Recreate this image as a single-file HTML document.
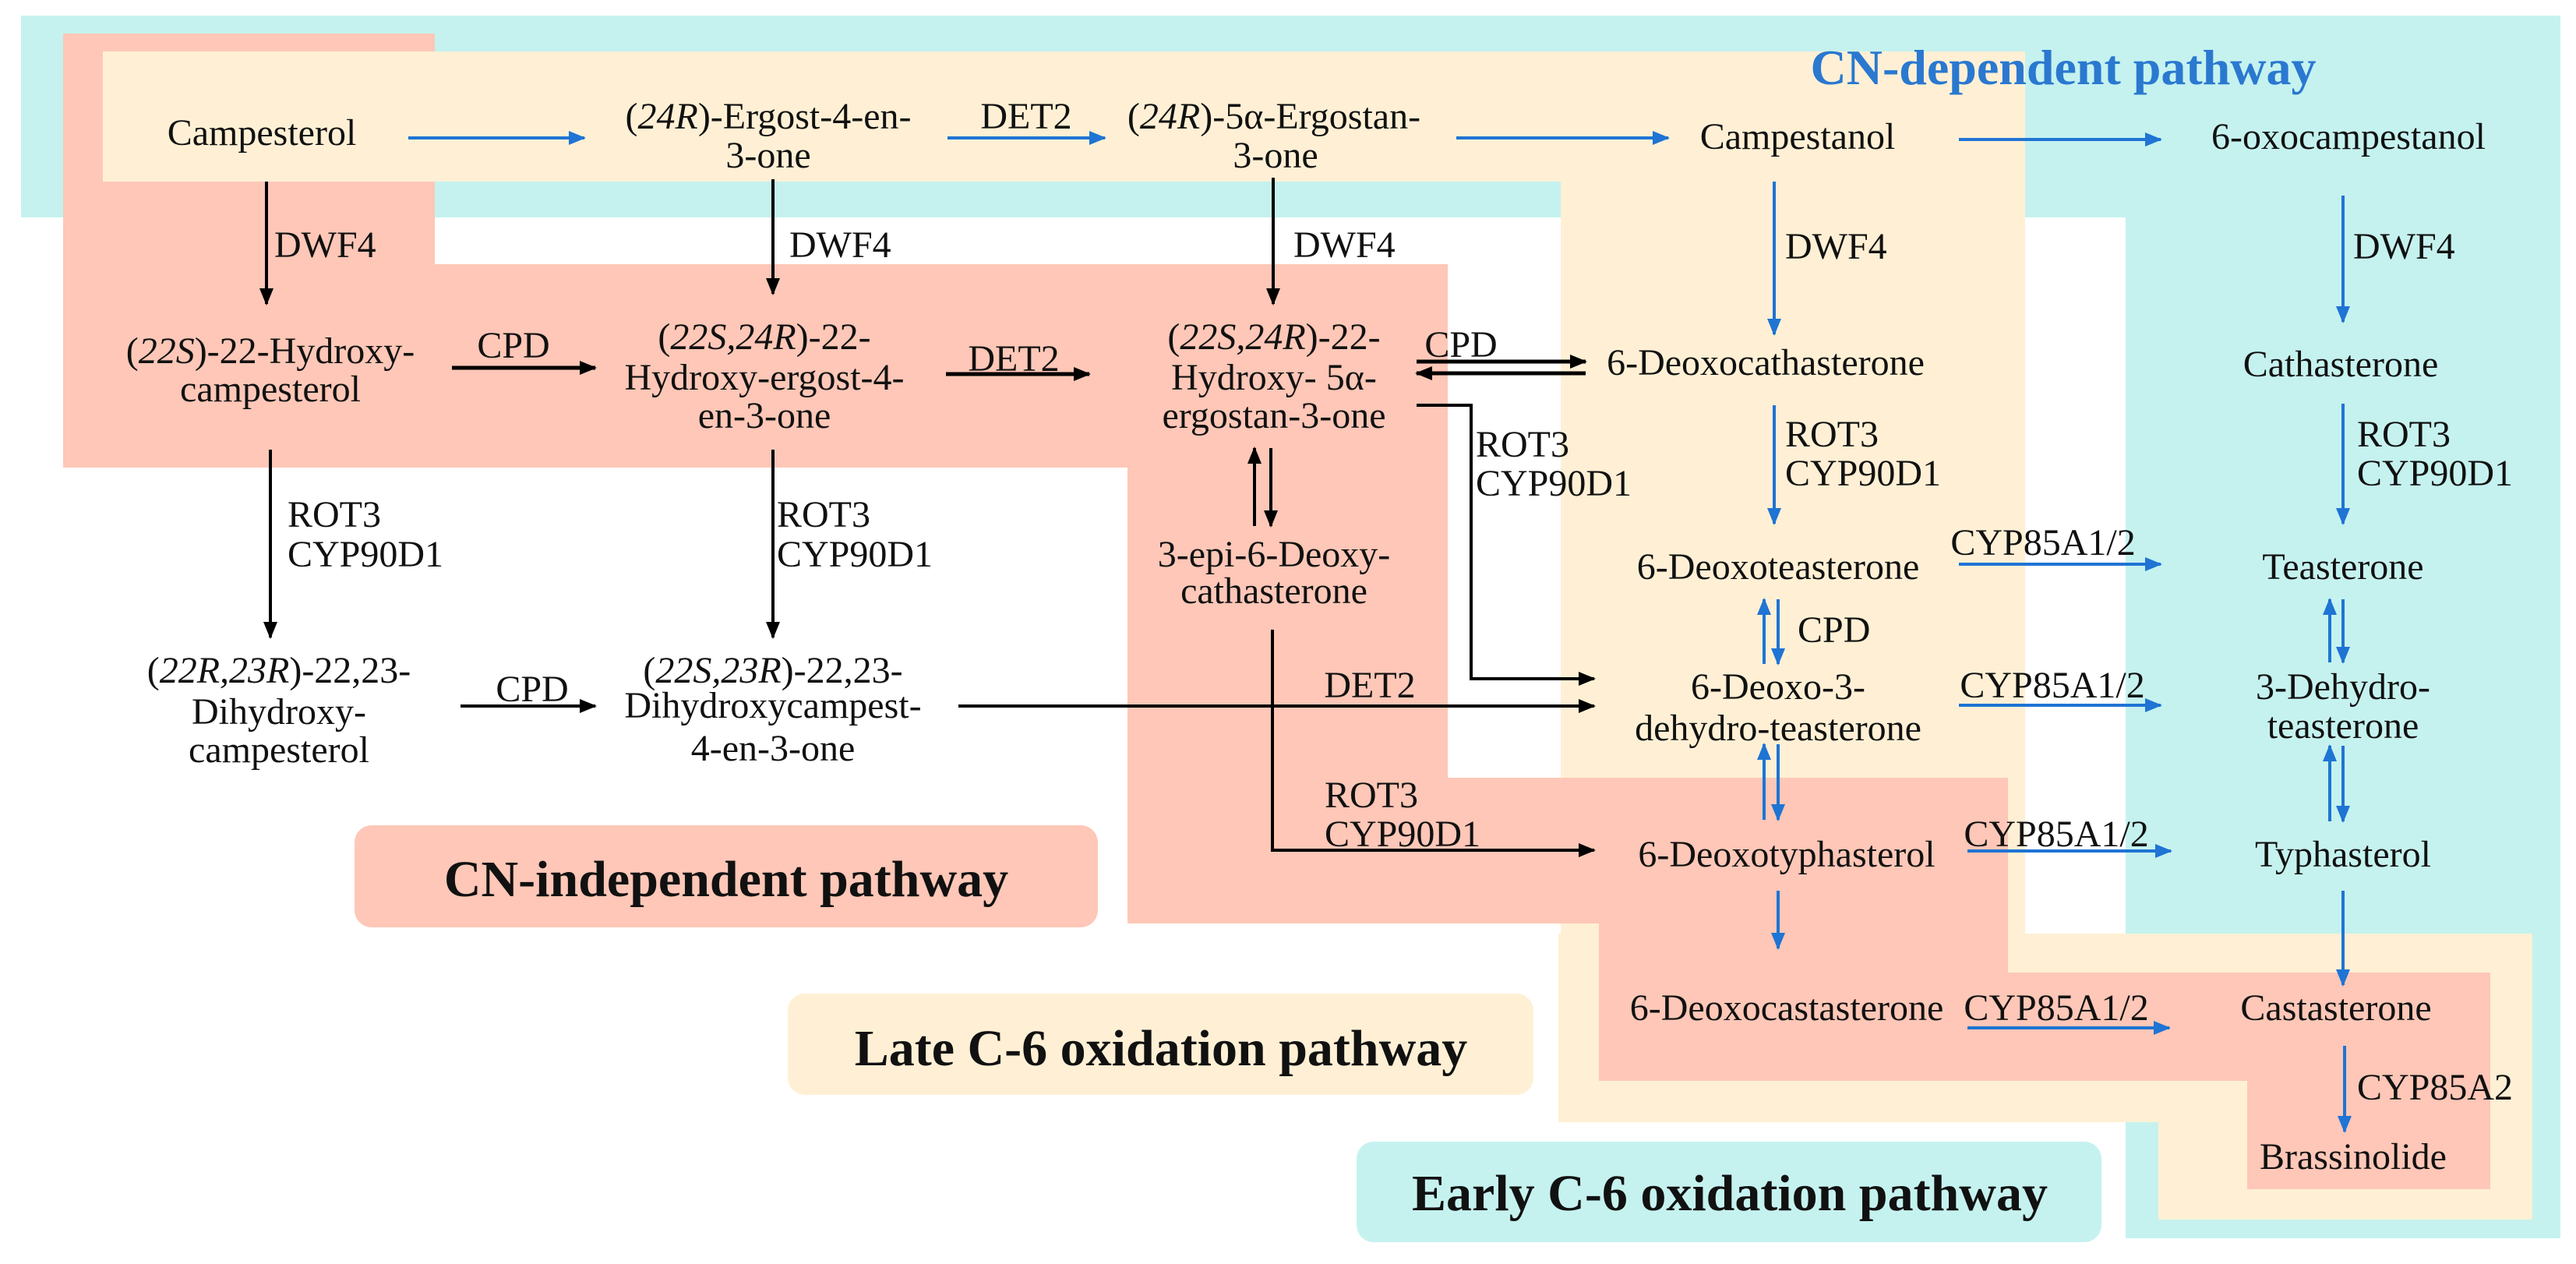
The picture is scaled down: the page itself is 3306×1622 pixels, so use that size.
<!DOCTYPE html>
<html><head><meta charset="utf-8"><style>
html,body{margin:0;padding:0;background:#fff;}
svg{display:block;}
svg text{font-family:"Liberation Serif","Times New Roman",serif !important;font-size:48px;fill:#111;}
.b{font-weight:bold;}
</style></head><body>
<svg width="3306" height="1622" viewBox="0 0 3306 1622" xmlns="http://www.w3.org/2000/svg" font-family="Liberation Serif, serif">
<defs>
<marker id="ak" markerUnits="userSpaceOnUse" markerWidth="22" markerHeight="18" refX="20" refY="9" orient="auto"><path d="M0,0 L22,9 L0,18 Z" fill="#000"/></marker>
<marker id="ab" markerUnits="userSpaceOnUse" markerWidth="22" markerHeight="18" refX="20" refY="9" orient="auto"><path d="M0,0 L22,9 L0,18 Z" fill="#1f74d4"/></marker>
</defs>
<g fill="#c5f2ef">
<rect x="27" y="20" width="3259" height="259"/>
<rect x="2728" y="279" width="558" height="1310"/>
</g>
<g fill="#fff0d5">
<rect x="2003" y="233" width="596" height="965"/>
<rect x="2000" y="1198" width="1250" height="242"/>
<rect x="2770" y="1440" width="480" height="125"/>
</g>
<g fill="#fec7b7">
<rect x="81" y="43" width="477" height="557"/>
<rect x="81" y="339" width="1777" height="261"/>
<rect x="1447" y="600" width="411" height="585"/>
<rect x="1856" y="998" width="721" height="187"/>
<rect x="2052" y="1185" width="525" height="202"/>
<rect x="2052" y="1248" width="1144" height="139"/>
<rect x="2884" y="1248" width="312" height="278"/>
</g>
<rect x="132" y="66" width="2467" height="167" fill="#fff0d5"/>
<rect x="455" y="1059" width="954" height="131" rx="22" fill="#fec7b7"/>
<rect x="1011" y="1275" width="957" height="130" rx="22" fill="#fff0d5"/>
<rect x="1741" y="1465" width="956" height="129" rx="22" fill="#c5f2ef"/>

<text class="b" x="2648" y="108" text-anchor="middle" style="font-size:64px;fill:#2a78d0">CN-dependent pathway</text>
<text class="b" x="932" y="1150" text-anchor="middle" style="font-size:66px">CN-independent pathway</text>
<text class="b" x="1490" y="1367" text-anchor="middle" style="font-size:66px">Late C-6 oxidation pathway</text>
<text class="b" x="2220" y="1553" text-anchor="middle" style="font-size:66px">Early C-6 oxidation pathway</text>

<g stroke="#1f74d4" stroke-width="4" fill="none" marker-end="url(#ab)">
<line x1="524" y1="177" x2="750" y2="177"/>
<line x1="1216" y1="177" x2="1418" y2="177"/>
<line x1="1869" y1="177" x2="2141" y2="177"/>
<line x1="2514" y1="179" x2="2773" y2="179"/>
<line x1="2277" y1="233" x2="2277" y2="429"/>
<line x1="3007" y1="251" x2="3007" y2="413"/>
<line x1="2277" y1="520" x2="2277" y2="672"/>
<line x1="3007" y1="518" x2="3007" y2="672"/>
<line x1="2514" y1="724" x2="2773" y2="724"/>
<line x1="2514" y1="905" x2="2773" y2="905"/>
<line x1="2525" y1="1092" x2="2786" y2="1092"/>
<line x1="2525" y1="1319" x2="2784" y2="1319"/>
<line x1="2282" y1="1143" x2="2282" y2="1217"/>
<line x1="3007" y1="1143" x2="3007" y2="1264"/>
<line x1="3009" y1="1342" x2="3009" y2="1452"/>
<line x1="2264" y1="852" x2="2264" y2="769"/>
<line x1="2282" y1="769" x2="2282" y2="852"/>
<line x1="2264" y1="1052" x2="2264" y2="955"/>
<line x1="2282" y1="955" x2="2282" y2="1052"/>
<line x1="2990" y1="850" x2="2990" y2="769"/>
<line x1="3007" y1="769" x2="3007" y2="850"/>
<line x1="2990" y1="1054" x2="2990" y2="957"/>
<line x1="3007" y1="957" x2="3007" y2="1054"/>
</g>
<g stroke="#000" stroke-width="4" fill="none" marker-end="url(#ak)">
<line x1="342" y1="233" x2="342" y2="390"/>
<line x1="992" y1="230" x2="992" y2="377"/>
<line x1="1634" y1="228" x2="1634" y2="390"/>
<line x1="580" y1="472" x2="764" y2="472" stroke-width="5"/>
<line x1="1214" y1="480" x2="1398" y2="480" stroke-width="5"/>
<line x1="1818" y1="464" x2="2035" y2="464" stroke-width="5"/>
<line x1="2035" y1="479" x2="1818" y2="479" stroke-width="5"/>
<line x1="347" y1="577" x2="347" y2="818"/>
<line x1="992" y1="577" x2="992" y2="818"/>
<line x1="1610" y1="675" x2="1610" y2="575"/>
<line x1="1631" y1="575" x2="1631" y2="675"/>
<line x1="591" y1="906" x2="764" y2="906"/>
<polyline points="1818,520 1888,520 1888,871 2046,871"/>
<line x1="1230" y1="906" x2="2046" y2="906"/>
<polyline points="1633,808 1633,1091 2046,1091"/>
</g>

<g text-anchor="middle">
<text x="336" y="186">Campesterol</text>
<text x="986" y="165">(<tspan font-style="italic">24R</tspan>)-Ergost-4-en-</text>
<text x="986" y="215">3-one</text>
<text x="1635" y="165">(<tspan font-style="italic">24R</tspan>)-5α-Ergostan-</text>
<text x="1637" y="215">3-one</text>
<text x="2307" y="191">Campestanol</text>
<text x="3014" y="191">6-oxocampestanol</text>
<text x="347" y="466">(<tspan font-style="italic">22S</tspan>)-22-Hydroxy-</text>
<text x="347" y="515">campesterol</text>
<text x="981" y="448">(<tspan font-style="italic">22S,24R</tspan>)-22-</text>
<text x="981" y="500">Hydroxy-ergost-4-</text>
<text x="981" y="549">en-3-one</text>
<text x="1635" y="448">(<tspan font-style="italic">22S,24R</tspan>)-22-</text>
<text x="1635" y="500">Hydroxy- 5α-</text>
<text x="1635" y="549">ergostan-3-one</text>
<text x="2266" y="481">6-Deoxocathasterone</text>
<text x="3004" y="483">Cathasterone</text>
<text x="1635" y="727">3-epi-6-Deoxy-</text>
<text x="1635" y="774">cathasterone</text>
<text x="2282" y="743">6-Deoxoteasterone</text>
<text x="3007" y="743">Teasterone</text>
<text x="358" y="876">(<tspan font-style="italic">22R,23R</tspan>)-22,23-</text>
<text x="358" y="929">Dihydroxy-</text>
<text x="358" y="978">campesterol</text>
<text x="992" y="876">(<tspan font-style="italic">22S,23R</tspan>)-22,23-</text>
<text x="992" y="921">Dihydroxycampest-</text>
<text x="992" y="976">4-en-3-one</text>
<text x="2282" y="897">6-Deoxo-3-</text>
<text x="2282" y="950">dehydro-teasterone</text>
<text x="3007" y="897">3-Dehydro-</text>
<text x="3007" y="947">teasterone</text>
<text x="2293" y="1112">6-Deoxotyphasterol</text>
<text x="3007" y="1112">Typhasterol</text>
<text x="2293" y="1309">6-Deoxocastasterone</text>
<text x="2998" y="1309">Castasterone</text>
<text x="3020" y="1500">Brassinolide</text>
<text x="1317" y="165">DET2</text>
<text x="659" y="459">CPD</text>
<text x="1301" y="476">DET2</text>
<text x="1875" y="458">CPD</text>
<text x="683" y="900">CPD</text>
<text x="1758" y="895">DET2</text>
<text x="2622" y="712">CYP85A1/2</text>
<text x="2634" y="895">CYP85A1/2</text>
<text x="2639" y="1086">CYP85A1/2</text>
<text x="2639" y="1309">CYP85A1/2</text>
</g>
<g>
<text x="352" y="330">DWF4</text>
<text x="1013" y="330">DWF4</text>
<text x="1660" y="330">DWF4</text>
<text x="2291" y="332">DWF4</text>
<text x="3020" y="332">DWF4</text>
<text x="369" y="676">ROT3</text>
<text x="369" y="727">CYP90D1</text>
<text x="997" y="676">ROT3</text>
<text x="997" y="727">CYP90D1</text>
<text x="1894" y="586">ROT3</text>
<text x="1894" y="636">CYP90D1</text>
<text x="2291" y="573">ROT3</text>
<text x="2291" y="623">CYP90D1</text>
<text x="3025" y="573">ROT3</text>
<text x="3025" y="623">CYP90D1</text>
<text x="2307" y="824">CPD</text>
<text x="1700" y="1036">ROT3</text>
<text x="1700" y="1086">CYP90D1</text>
<text x="3025" y="1411">CYP85A2</text>
</g>
</svg>
</body></html>
